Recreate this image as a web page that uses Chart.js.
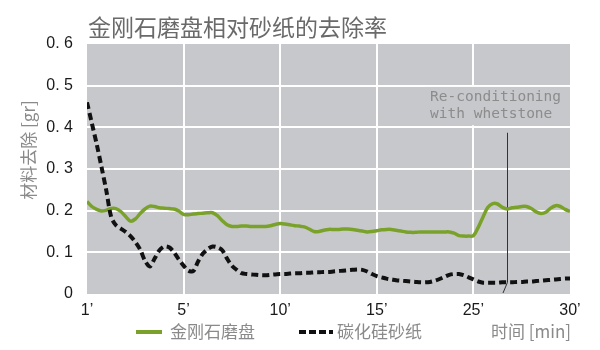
<!DOCTYPE html>
<html>
<head>
<meta charset="utf-8">
<script src="https://cdn.jsdelivr.net/npm/chart.js@4/dist/chart.umd.min.js"></script>
<style>
    html, body { margin: 0; padding: 0; background: #fff; }
    #wrap { width: 600px; height: 350px; }
</style>
</head>
<body>
<div id="wrap"><canvas id="myChart" width="600" height="350"></canvas></div>
<script>
const chartTitle = '金刚石磨盘相对砂纸的去除率';
const yTitle = '材料去除 [gr]';
const xTitle = '时间 [min]';
const seriesNames = ['金刚石磨盘', '碳化硅砂纸'];
// labels under the grid lines, one every 20 samples
const tickLabels = ['1’', '5’', '10’', '15’', '25’', '30’'];
const yTicks = [0, 0.1, 0.2, 0.3, 0.4, 0.5, 0.6];
const noteLines = ['Re-conditioning', 'with whetstone'];
const noteAt = 87;        // sample where the whetstone was used
const noteTop = 0.387;

const diamondDisc = [
    0.222, 0.210, 0.203, 0.199, 0.201, 0.205, 0.205, 0.198, 0.186, 0.175,
    0.180, 0.193, 0.204, 0.211, 0.210, 0.207, 0.206, 0.205, 0.204, 0.199,
    0.191, 0.190, 0.192, 0.193, 0.194, 0.195, 0.195, 0.188, 0.176, 0.166,
    0.162, 0.162, 0.163, 0.163, 0.162, 0.162, 0.162, 0.162, 0.164, 0.167,
    0.169, 0.168, 0.166, 0.164, 0.163, 0.161, 0.156, 0.150, 0.150, 0.153,
    0.155, 0.155, 0.155, 0.156, 0.156, 0.155, 0.153, 0.151, 0.149, 0.150,
    0.152, 0.154, 0.155, 0.155, 0.153, 0.151, 0.149, 0.148, 0.148, 0.149,
    0.149, 0.149, 0.149, 0.149, 0.149, 0.149, 0.146, 0.140, 0.139, 0.139,
    0.140, 0.160, 0.185, 0.208, 0.217, 0.216, 0.208, 0.204, 0.207, 0.208,
    0.210, 0.210, 0.205, 0.197, 0.193, 0.196, 0.206, 0.212, 0.210, 0.203,
    0.198
];
const sicPaper = [
    0.460, 0.410, 0.360, 0.305, 0.248, 0.185, 0.165, 0.157, 0.149, 0.139,
    0.125, 0.107, 0.080, 0.066, 0.085, 0.105, 0.114, 0.112, 0.100, 0.083,
    0.068, 0.056, 0.055, 0.078, 0.097, 0.108, 0.114, 0.112, 0.105, 0.085,
    0.068, 0.058, 0.050, 0.048, 0.047, 0.046, 0.045, 0.045, 0.046, 0.047,
    0.048, 0.048, 0.049, 0.050, 0.050, 0.051, 0.051, 0.052, 0.052, 0.053,
    0.053, 0.054, 0.055, 0.056, 0.057, 0.058, 0.059, 0.058, 0.054, 0.048,
    0.043, 0.040, 0.037, 0.035, 0.033, 0.032, 0.031, 0.030, 0.029, 0.028,
    0.028, 0.029, 0.032, 0.036, 0.041, 0.046, 0.048, 0.048, 0.045, 0.040,
    0.035, 0.030, 0.027, 0.027, 0.027, 0.027, 0.028, 0.028, 0.028, 0.029,
    0.029, 0.030, 0.030, 0.031, 0.032, 0.033, 0.034, 0.035, 0.036, 0.037,
    0.037
];
const samples = diamondDisc.map((v, i) => i);

const plotBg = '#c7c8cc';
const green = '#7aa22b';
const cjk = '"Noto Sans CJK SC", "Noto Sans", sans-serif';
const nums = '"Liberation Sans", "Noto Sans CJK SC", sans-serif';

const decorations = {
    id: 'decorations',
    beforeDraw(chart) {
        const { ctx, chartArea: a } = chart;
        ctx.save();
        ctx.fillStyle = plotBg;
        ctx.fillRect(a.left, a.top, a.right - a.left, a.bottom - a.top);
        ctx.restore();
    },
    beforeDatasetsDraw(chart) {
        const { ctx, chartArea: a, scales: { x, y } } = chart;
        // box behind the note hides the grid line under it
        const boxLeft = x.getPixelForValue(70);
        const boxTop = y.getPixelForValue(0.497);
        const boxBottom = y.getPixelForValue(0.405);
        ctx.save();
        ctx.fillStyle = plotBg;
        ctx.fillRect(boxLeft, boxTop, a.right - boxLeft, boxBottom - boxTop);
        ctx.fillStyle = '#8c8c8c';
        ctx.font = '14.5px "DejaVu Sans Mono", monospace';
        ctx.textBaseline = 'middle';
        ctx.textAlign = 'left';
        ctx.fillText(noteLines[0], boxLeft + 5, boxTop + 10);
        ctx.fillText(noteLines[1], boxLeft + 5, boxTop + 27);

        // marker line
        const mx = Math.round(x.getPixelForValue(noteAt)) + 0.5;
        const my = y.getPixelForValue(sicPaper[noteAt]);
        ctx.strokeStyle = '#333';
        ctx.lineWidth = 1;
        ctx.beginPath();
        ctx.moveTo(mx, y.getPixelForValue(noteTop));
        ctx.lineTo(mx, my);
        ctx.lineTo(mx - 4.5, a.bottom - 1);
        ctx.stroke();
        ctx.restore();
    },
    afterDraw(chart) {
        const { ctx, chartArea: a } = chart;
        ctx.save();
        ctx.textBaseline = 'middle';
        ctx.textAlign = 'left';

        ctx.fillStyle = '#6a6a6a';
        ctx.font = '23px ' + cjk;
        ctx.fillText(chartTitle, a.left + 1, 27);

        ctx.fillStyle = '#8a8a8a';
        ctx.font = '17px ' + cjk;
        ctx.save();
        ctx.translate(29, 150);
        ctx.rotate(-Math.PI / 2);
        ctx.textAlign = 'center';
        ctx.fillText(yTitle, 0, 0);
        ctx.restore();

        const ly = 332;
        ctx.lineWidth = 4;
        ctx.strokeStyle = green;
        ctx.beginPath();
        ctx.moveTo(136, ly);
        ctx.lineTo(162, ly);
        ctx.stroke();
        ctx.fillText(seriesNames[0], 170, ly);

        ctx.strokeStyle = '#111';
        ctx.setLineDash([7, 3]);
        ctx.beginPath();
        ctx.moveTo(299, ly);
        ctx.lineTo(333, ly);
        ctx.stroke();
        ctx.setLineDash([]);
        ctx.fillText(seriesNames[1], 337, ly);

        ctx.fillText(xTitle, 491, ly);
        ctx.restore();
    }
};

const edgeless = (n, last) => (c) => {
    const v = c.tick ? c.tick.value : 0;
    return v === 0 || v === last ? 'rgba(0,0,0,0)' : '#ffffff';
};

const ctx = document.getElementById('myChart').getContext('2d');
const myChart = new Chart(ctx, {
    type: 'line',
    data: {
        labels: samples,
        datasets: [{
            label: seriesNames[0],
            data: diamondDisc,
            borderColor: green,
            borderWidth: 3.5,
            pointRadius: 0,
            tension: 0.3,
            order: 1,
        }, {
            label: seriesNames[1],
            data: sicPaper,
            borderColor: '#111111',
            borderWidth: 4,
            borderDash: [7, 4],
            pointRadius: 0,
            tension: 0.3,
            order: 0,
        }]
    },
    options: {
        responsive: false,
        animation: false,
        layout: { padding: { top: 44, right: 30, bottom: 0, left: 0 } },
        plugins: {
            legend: { display: false },
            tooltip: { enabled: false },
        },
        scales: {
            x: {
                type: 'linear',
                min: 0,
                max: 100,
                afterFit: (s) => { s.height = 56; },
                afterBuildTicks: (s) => { s.ticks = tickLabels.map((t, i) => ({ value: i * 20 })); },
                ticks: {
                    autoSkip: false,
                    maxRotation: 0,
                    padding: 7,
                    color: '#1a1a1a',
                    font: { family: nums, size: 16 },
                    callback: (val) => tickLabels[Math.round(val / 20)],
                },
                grid: { color: edgeless(0, 100), lineWidth: 2, drawTicks: false },
                border: { display: false },
            },
            y: {
                min: 0,
                max: 0.6,
                afterFit: (s) => { s.width = 87; },
                afterBuildTicks: (s) => { s.ticks = yTicks.map(v => ({ value: v })); },
                ticks: {
                    padding: 14,
                    color: '#1a1a1a',
                    font: { family: nums, size: 16 },
                    callback: (val) => val === 0 ? '0' : val.toFixed(1).replace('.', '. '),
                },
                grid: { color: edgeless(0, 0.6), lineWidth: 2, drawTicks: false },
                border: { display: false },
            }
        }
    },
    plugins: [decorations]
});
</script>
</body>
</html>
